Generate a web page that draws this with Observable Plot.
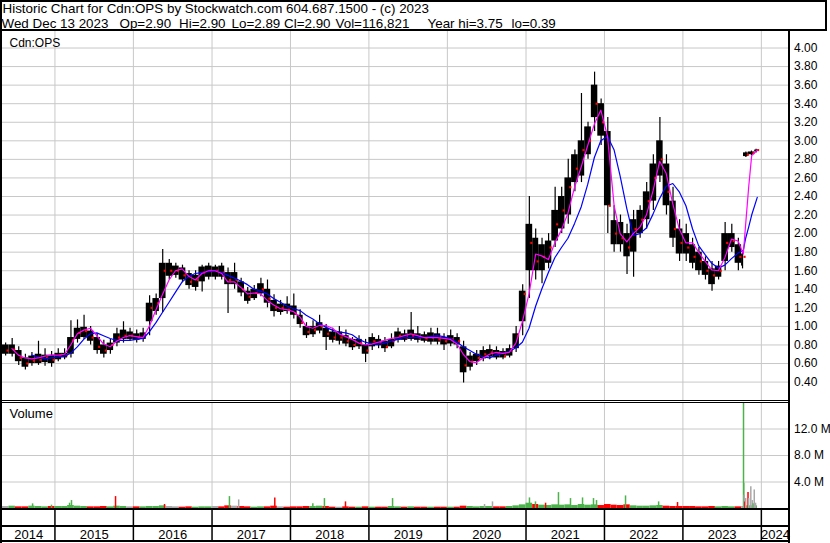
<!DOCTYPE html>
<html><head><meta charset="utf-8">
<script src="https://cdn.jsdelivr.net/npm/d3@7"></script>
<script src="https://cdn.jsdelivr.net/npm/@observablehq/plot@0.6"></script>
<style>
body{margin:0;background:#fff;}
#chart{position:relative;width:830px;height:543px;font-family:"Liberation Sans",Arial,sans-serif;overflow:hidden;background:#fff;}
#chart svg text{white-space:pre;}
.ln{position:absolute;background:#000;}
</style></head>
<body><div id="chart"></div>
<script>
// ---- header text ----
const headerTitle = "Historic Chart for Cdn:OPS by Stockwatch.com 604.687.1500 - (c) 2023";
const headerFields = ["Wed Dec 13 2023", "Op=2.90", "Hi=2.90", "Lo=2.89", "Cl=2.90", "Vol=116,821", "Year hi=3.75", "lo=0.39"];
const headerFieldX = [1, 119, 178.5, 231, 283.5, 335, 427, 511]; // layout only

// ---- periods (monthly, Oct 2023 split at the takeover jump) ----
const periodStart = [
"2014-05-01","2014-06-01","2014-07-01","2014-08-01","2014-09-01","2014-10-01","2014-11-01","2014-12-01",
"2015-01-01","2015-02-01","2015-03-01","2015-04-01","2015-05-01","2015-06-01","2015-07-01","2015-08-01","2015-09-01","2015-10-01","2015-11-01","2015-12-01",
"2016-01-01","2016-02-01","2016-03-01","2016-04-01","2016-05-01","2016-06-01","2016-07-01","2016-08-01","2016-09-01","2016-10-01","2016-11-01","2016-12-01",
"2017-01-01","2017-02-01","2017-03-01","2017-04-01","2017-05-01","2017-06-01","2017-07-01","2017-08-01","2017-09-01","2017-10-01","2017-11-01","2017-12-01",
"2018-01-01","2018-02-01","2018-03-01","2018-04-01","2018-05-01","2018-06-01","2018-07-01","2018-08-01","2018-09-01","2018-10-01","2018-11-01","2018-12-01",
"2019-01-01","2019-02-01","2019-03-01","2019-04-01","2019-05-01","2019-06-01","2019-07-01","2019-08-01","2019-09-01","2019-10-01","2019-11-01","2019-12-01",
"2020-01-01","2020-02-01","2020-03-01","2020-04-01","2020-05-01","2020-06-01","2020-07-01","2020-08-01","2020-09-01","2020-10-01","2020-11-01","2020-12-01",
"2021-01-01","2021-02-01","2021-03-01","2021-04-01","2021-05-01","2021-06-01","2021-07-01","2021-08-01","2021-09-01","2021-10-01","2021-11-01","2021-12-01",
"2022-01-01","2022-02-01","2022-03-01","2022-04-01","2022-05-01","2022-06-01","2022-07-01","2022-08-01","2022-09-01","2022-10-01","2022-11-01","2022-12-01",
"2023-01-01","2023-02-01","2023-03-01","2023-04-01","2023-05-01","2023-06-01","2023-07-01","2023-08-01","2023-09-01","2023-10-01","2023-10-10","2023-11-01","2023-12-01"];
const lastDay = "2023-12-14";

const priceHigh = [
.82,.87,.78,.70,.72,.84,.76,.73,
.76,.76,1.06,1.07,1.12,1.00,.92,.85,.86,.98,1.05,.98,
.96,.98,1.33,1.35,1.83,1.72,1.68,1.66,1.60,1.60,1.66,1.68,
1.66,1.68,1.63,1.68,1.52,1.42,1.44,1.52,1.50,1.34,1.28,1.32,
1.35,1.18,1.04,1.06,1.12,1.02,.98,1.00,.96,.88,.90,.86,
.92,.90,.88,.92,.98,.96,1.15,1.00,.94,.98,.98,.92,
.96,.92,.84,.72,.74,.78,.80,.78,.76,.80,1.00,1.45,
2.40,2.05,1.95,2.00,2.50,2.50,2.80,2.90,3.51,3.20,3.74,3.45,
3.25,2.30,2.20,2.10,2.25,2.30,2.55,2.85,3.25,2.85,2.50,2.15,
2.10,1.95,1.85,1.75,1.70,1.70,2.12,2.10,1.95,1.80,2.88,2.89,2.91];
const priceLow = [
.68,.67,.58,.53,.57,.58,.57,.56,
.62,.64,.66,.82,.86,.80,.70,.66,.70,.78,.82,.84,
.82,.83,.90,1.12,1.15,1.50,1.52,1.47,1.40,1.38,1.37,1.50,
1.50,1.50,1.14,1.40,1.32,1.24,1.28,1.32,1.20,1.10,1.12,1.13,
1.08,.98,.87,.88,.92,.74,.82,.80,.78,.74,.75,.61,
.74,.76,.72,.76,.82,.83,.84,.82,.82,.80,.80,.74,
.78,.76,.39,.52,.58,.62,.64,.64,.64,.66,.72,.90,
1.30,1.50,1.46,1.62,1.85,2.00,2.10,2.45,2.55,2.80,3.10,2.95,
2.00,1.80,1.80,1.56,1.53,1.95,2.05,2.25,2.55,2.20,1.85,1.70,
1.70,1.62,1.55,1.50,1.38,1.50,1.60,1.80,1.60,1.62,2.82,2.84,2.87];
const bodyHigh = [
.80,.80,.74,.66,.68,.70,.69,.69,
.71,.71,.88,.98,.99,.95,.88,.80,.82,.92,.96,.94,
.92,.93,1.25,1.30,1.68,1.68,1.65,1.63,1.57,1.55,1.64,1.65,
1.64,1.65,1.58,1.58,1.48,1.38,1.40,1.46,1.40,1.28,1.24,1.24,
1.22,1.12,1.00,1.00,1.04,.98,.94,.94,.90,.86,.86,.80,
.88,.86,.84,.86,.94,.92,.96,.92,.91,.93,.92,.88,
.90,.88,.78,.68,.70,.74,.75,.74,.73,.76,.92,1.38,
2.10,1.95,1.88,1.92,2.25,2.40,2.60,2.85,3.00,3.15,3.60,3.40,
3.10,2.14,2.12,2.00,2.15,2.25,2.45,2.75,3.00,2.75,2.35,2.05,
2.00,1.88,1.80,1.70,1.62,1.65,2.00,2.00,1.88,1.78,2.87,2.88,2.90];
const bodyLow = [
.70,.70,.62,.56,.60,.60,.61,.60,
.64,.66,.70,.86,.88,.84,.74,.70,.74,.82,.86,.86,
.85,.86,1.05,1.16,1.30,1.54,1.55,1.50,1.44,1.42,1.48,1.53,
1.53,1.53,1.45,1.45,1.36,1.27,1.30,1.35,1.25,1.16,1.15,1.16,
1.12,1.02,.90,.91,.95,.88,.85,.84,.81,.77,.78,.70,
.78,.79,.76,.78,.85,.85,.86,.85,.84,.83,.83,.80,
.81,.80,.50,.56,.62,.65,.67,.66,.66,.68,.76,1.05,
1.60,1.60,1.60,1.68,1.92,2.05,2.20,2.55,2.62,2.85,3.25,3.05,
2.30,1.88,1.88,1.75,1.80,2.00,2.15,2.35,2.62,2.30,1.95,1.78,
1.78,1.68,1.60,1.55,1.45,1.53,1.70,1.85,1.68,1.65,2.83,2.85,2.88];
const priceClose = [
.74,.75,.66,.60,.63,.64,.66,.64,
.68,.69,.85,.93,.95,.88,.78,.74,.80,.88,.90,.90,
.88,.90,1.20,1.25,1.60,1.60,1.60,1.55,1.48,1.50,1.58,1.60,
1.60,1.58,1.50,1.50,1.40,1.32,1.36,1.40,1.30,1.20,1.20,1.18,
1.14,1.04,.94,.96,1.00,.92,.88,.88,.84,.80,.82,.74,
.84,.82,.78,.84,.90,.88,.90,.88,.87,.88,.86,.84,
.86,.84,.58,.62,.66,.70,.72,.70,.68,.74,.90,1.35,
1.90,1.70,1.75,1.85,2.10,2.25,2.50,2.70,2.90,3.00,3.40,3.20,
2.30,2.00,1.95,1.85,2.05,2.15,2.35,2.60,2.80,2.45,2.05,1.90,
1.85,1.75,1.70,1.60,1.55,1.60,1.90,1.92,1.75,1.75,2.85,2.87,2.90];
// typical daily volume per period, millions
const volume = [
.30,.35,.25,.25,.35,.30,.25,.30,
.30,.30,.45,.35,.30,.25,.25,.30,.25,.35,.30,.25,
.25,.25,.30,.30,.40,.30,.25,.20,.25,.20,.25,.25,
.30,.25,.40,.35,.30,.25,.20,.25,.25,.35,.25,.20,
.25,.25,.30,.30,.35,.30,.20,.20,.25,.20,.20,.25,
.20,.20,.20,.30,.25,.20,.25,.20,.20,.20,.20,.20,
.20,.20,.35,.30,.25,.30,.30,.25,.25,.30,.40,.55,
.80,.60,.50,.45,.55,.50,.55,.45,.60,.50,.55,.45,
.60,.50,.45,.55,.40,.35,.35,.40,.45,.35,.30,.30,
.30,.30,.25,.25,.30,.25,.30,.25,.25,.30,.40,.40,.40];

// ---- single-day volume spikes ----
const spikeDates = ["2014-09-19","2014-12-16","2015-03-10","2015-03-19","2015-10-10","2016-05-25","2017-03-23","2017-05-05","2017-10-20","2018-04-15","2018-06-08","2018-09-14","2019-04-21","2020-06-22","2020-07-29","2021-01-17","2021-02-14","2021-04-02","2021-06-01","2021-07-27","2021-09-21","2021-11-11","2021-11-25","2022-04-09","2022-09-10","2022-12-07",
"2023-10-10","2023-10-11","2023-10-13","2023-10-16","2023-10-20","2023-10-31","2023-11-03","2023-11-13","2023-11-20","2023-11-24","2023-11-29","2023-12-05"];
const spikeVolume = [0.7,0.5,0.8,1.2,1.8,0.6,1.8,1.3,1.6,0.7,1.5,1.0,1.5,0.6,1.0,1.6,1.0,0.8,2.4,1.5,1.6,1.5,1.2,1.9,1.0,0.9,
16.5,3.8,2.0,1.0,1.5,2.4,1.5,3.3,1.2,0.7,2.8,0.8];
const spikeDir = ["up","up","up","up","down","down","up","flat","down","up","up","down","up","flat","flat","up","up","down","up","up","up","up","up","up","up","down",
"up","up","flat","down","flat","down","flat","flat","flat","up","flat","flat"];

// ---- moving averages ----
const maDates = [
"2014-06-15","2014-07-15","2014-08-15","2014-09-15","2014-10-15","2014-11-15","2014-12-15",
"2015-01-15","2015-02-15","2015-03-15","2015-04-15","2015-05-15","2015-06-15","2015-07-15","2015-08-15","2015-09-15","2015-10-15","2015-11-15","2015-12-15",
"2016-01-15","2016-02-15","2016-03-15","2016-04-15","2016-05-15","2016-06-15","2016-07-15","2016-08-15","2016-09-15","2016-10-15","2016-11-15","2016-12-15",
"2017-01-15","2017-02-15","2017-03-15","2017-04-15","2017-05-15","2017-06-15","2017-07-15","2017-08-15","2017-09-15","2017-10-15","2017-11-15","2017-12-15",
"2018-01-15","2018-02-15","2018-03-15","2018-04-15","2018-05-15","2018-06-15","2018-07-15","2018-08-15","2018-09-15","2018-10-15","2018-11-15","2018-12-15",
"2019-01-15","2019-02-15","2019-03-15","2019-04-15","2019-05-15","2019-06-15","2019-07-15","2019-08-15","2019-09-15","2019-10-15","2019-11-15","2019-12-15",
"2020-01-15","2020-02-15","2020-03-15","2020-04-15","2020-05-15","2020-06-15","2020-07-15","2020-08-15","2020-09-15","2020-10-15","2020-11-15","2020-12-15",
"2021-01-15","2021-02-15","2021-03-15","2021-04-15","2021-05-15","2021-06-15","2021-07-15","2021-08-15","2021-09-15","2021-10-15","2021-11-15","2021-12-15",
"2022-01-15","2022-02-15","2022-03-15","2022-04-15","2022-05-15","2022-06-15","2022-07-15","2022-08-15","2022-09-15","2022-10-15","2022-11-15","2022-12-15",
"2023-01-15","2023-02-15","2023-03-15","2023-04-15","2023-05-15","2023-06-15","2023-07-15","2023-08-15","2023-09-15",
"2023-10-09","2023-10-20","2023-11-03","2023-11-17","2023-12-13"];
const maShort = [
.76,.69,.66,.65,.66,.68,.69,
.69,.70,.80,.92,.96,.98,.90,.81,.78,.84,.88,.90,
.89,.88,1.00,1.18,1.34,1.50,1.60,1.62,1.54,1.50,1.57,1.60,
1.60,1.57,1.48,1.48,1.42,1.35,1.36,1.35,1.28,1.23,1.19,1.18,
1.16,1.10,1.00,.98,1.01,1.01,.98,.92,.89,.86,.82,.80,
.81,.83,.85,.87,.88,.90,.92,.90,.88,.88,.88,.87,
.86,.81,.70,.62,.61,.66,.70,.72,.71,.72,.82,1.05,
1.35,1.78,1.76,1.72,1.90,2.04,2.22,2.50,2.72,2.95,3.18,3.33,
3.05,2.30,2.00,1.91,2.00,2.07,2.20,2.46,2.78,2.65,2.32,2.05,
1.90,1.90,1.80,1.70,1.61,1.60,1.74,1.94,1.92,
1.78,2.10,2.50,2.84,2.90];
const maLong = [
null,null,null,.69,.67,.65,.66,
.67,.68,.71,.78,.86,.92,.93,.90,.87,.85,.85,.85,
.86,.87,.94,1.04,1.15,1.26,1.37,1.48,1.54,1.57,1.58,1.59,
1.60,1.58,1.55,1.52,1.49,1.45,1.40,1.38,1.35,1.30,1.26,1.22,
1.19,1.17,1.12,1.08,1.03,.99,.96,.94,.93,.91,.86,.83,
.81,.81,.82,.84,.86,.88,.88,.88,.88,.89,.90,.89,
.87,.83,.78,.74,.70,.67,.66,.69,.71,.73,.77,.83,
.98,1.22,1.40,1.58,1.74,1.85,1.95,2.11,2.29,2.53,2.82,3.00,
3.05,2.90,2.62,2.27,1.98,2.00,2.06,2.21,2.38,2.51,2.54,2.45,
2.30,2.05,1.87,1.77,1.68,1.63,1.66,1.73,1.79,
1.82,1.95,2.07,2.20,2.39];

// ---- axis labels ----
const priceTicks = [0.40,0.60,0.80,1.00,1.20,1.40,1.60,1.80,2.00,2.20,2.40,2.60,2.80,3.00,3.20,3.40,3.60,3.80,4.00];
const volumeTicks = [4,8,12];
const yearLabels = ["2014","2015","2016","2017","2018","2019","2020","2021","2022","2023","2024"];
const yearStarts = ["2015-01-01","2016-01-01","2017-01-01","2018-01-01","2019-01-01","2020-01-01","2021-01-01","2022-01-01","2023-01-01","2024-01-01"];

// ---- build tables ----
const P = s => new Date(s + "T00:00:00Z");
const bars = periodStart.map((s, i) => {
  const t0 = P(s), t1 = P(periodStart[i + 1] ?? lastDay);
  const prev = i ? priceClose[i - 1] : priceClose[i];
  return {t0, t1, tm: new Date((+t0 + +t1) / 2), hi: priceHigh[i], lo: priceLow[i],
    bh: bodyHigh[i], bl: bodyLow[i], c: priceClose[i], v: volume[i],
    dir: priceClose[i] > prev ? "up" : priceClose[i] < prev ? "down" : "flat"};
});
const ma = maDates.map((d, i) => ({t: P(d), s: maShort[i], l: maLong[i]}));
const spikes = spikeDates.map((d, i) => ({t: P(d), v: spikeVolume[i], dir: spikeDir[i]}));
const years = yearStarts.map(P);
const xDom = [P("2014-05-02"), P("2024-05-11")];
const yearRows = yearLabels.map(s => {
  const a = Math.max(+P(s + "-01-01"), +xDom[0]);
  const b = Math.min(+P((+s + 1) + "-01-01"), +xDom[1]);
  return {label: s, t: new Date((a + b) / 2)};
});
const headerRows = headerFields.map((f, i) => ({text: f, x: headerFieldX[i]}));

const FONT = "'Liberation Sans', Arial, sans-serif";
const xOpt = {type: "utc", domain: xDom, axis: null};
const colorOpt = {domain: ["up", "down", "flat"], range: ["#4cb34c", "#ff0000", "#a8a8a8"]};

const header = Plot.plot({
  width: 830, height: 31, margin: 0,
  style: {fontFamily: FONT, fontSize: "13.4px", color: "#000", background: "#fff"},
  x: {type: "identity", axis: null},
  marks: [
    Plot.text([headerTitle], {frameAnchor: "top-left", dx: 2, dy: 12.8, lineAnchor: "bottom", textAnchor: "start", fontSize: 13.4, fill: "#000"}),
    Plot.text(headerRows, {x: "x", text: "text", frameAnchor: "top", dy: 27.8, lineAnchor: "bottom", textAnchor: "start", fontSize: 13.4, fill: "#000"})
  ]
});

const price = Plot.plot({
  width: 830, height: 371, marginLeft: 2, marginRight: 41, marginTop: 0, marginBottom: 2,
  style: {fontFamily: FONT, fontSize: "12px", color: "#000", background: "#fff"},
  x: xOpt,
  y: {domain: [0.2015, 4.178], axis: null, label: null},
  marks: [
    Plot.gridY(priceTicks, {stroke: "#c8c8c8", strokeOpacity: 1}),
    Plot.ruleX(years, {stroke: "#c8c8c8", strokeOpacity: 1}),
    Plot.ruleX(bars, {x: "tm", y1: "lo", y2: "hi", stroke: "#000", strokeWidth: 1.2}),
    Plot.rect(bars, {x1: "t0", x2: "t1", y1: "bl", y2: "bh", fill: "#000"}),
    Plot.dot(bars, {x: "tm", y: "c", r: 1.2, symbol: "square", fill: "#ff0000", dx: 2}),
    Plot.line(ma, {x: "t", y: "l", stroke: "#0000ff", strokeWidth: 1.2, defined: d => d.l != null}),
    Plot.line(ma, {x: "t", y: "s", stroke: "#ff00ff", strokeWidth: 1.2}),
    Plot.axisY(priceTicks, {anchor: "right", tickSize: 0, tickPadding: 4.5, tickFormat: d3.format(".2f"), fill: "#000", fontSize: 12, label: null}),
    Plot.text(["Cdn:OPS"], {frameAnchor: "top-left", dx: 7, dy: 7, lineAnchor: "top", textAnchor: "start", fontSize: 12, fill: "#000"})
  ]
});

const vol = Plot.plot({
  width: 830, height: 106, marginLeft: 2, marginRight: 41, marginTop: 0, marginBottom: 1,
  style: {fontFamily: FONT, fontSize: "12px", color: "#000", background: "#fff"},
  x: xOpt,
  y: {domain: [0, 15.85], axis: null, label: null},
  color: colorOpt,
  marks: [
    Plot.gridY(volumeTicks, {stroke: "#c8c8c8", strokeOpacity: 1}),
    Plot.ruleX(years, {stroke: "#c8c8c8", strokeOpacity: 1}),
    Plot.rect(bars, {x1: "t0", x2: "t1", y1: 0, y2: "v", fill: "dir"}),
    Plot.ruleX(spikes, {x: "t", y1: 0, y2: "v", stroke: "dir", strokeWidth: 1.5, clip: true}),
    Plot.axisY(volumeTicks, {anchor: "right", tickSize: 0, tickPadding: 4.5, tickFormat: d => d.toFixed(1) + " M", fill: "#000", fontSize: 12, label: null}),
    Plot.text(["Volume"], {frameAnchor: "top-left", dx: 7, dy: 5, lineAnchor: "top", textAnchor: "start", fontSize: 13, fill: "#000"})
  ]
});

const strip = Plot.plot({
  width: 830, height: 31, marginLeft: 2, marginRight: 41, marginTop: 0, marginBottom: 0,
  style: {fontFamily: FONT, fontSize: "13px", color: "#000", background: "#fff"},
  x: xOpt,
  marks: [
    Plot.ruleX(years, {stroke: "#000", strokeWidth: 1.5}),
    Plot.text(yearRows, {x: "t", text: "label", frameAnchor: "bottom", lineAnchor: "bottom", dy: -2.5, fontSize: 13, fill: "#000"})
  ]
});

const chart = document.getElementById("chart");
function place(el, top) { el.style.position = "absolute"; el.style.left = "0px"; el.style.top = top + "px"; chart.appendChild(el); }
place(header, 0); place(price, 31); place(vol, 403); place(strip, 510);

// frame lines
function line(l, t, w, h) { const d = document.createElement("div"); d.className = "ln"; Object.assign(d.style, {left: l + "px", top: t + "px", width: w + "px", height: h + "px"}); chart.appendChild(d); }
line(0, 0, 827, 2);      // header top
line(825, 0, 2, 31);     // header right
line(0, 29, 827, 2);     // header bottom
line(0, 0, 2, 543);      // left border
line(788, 31, 2, 512);   // right axis border
line(0, 400, 790, 1);    // price bottom
line(0, 402, 790, 1);    // volume top
line(0, 508, 790, 2);
line(0, 525, 790, 2);
line(0, 540, 790, 2);
</script></body></html>
